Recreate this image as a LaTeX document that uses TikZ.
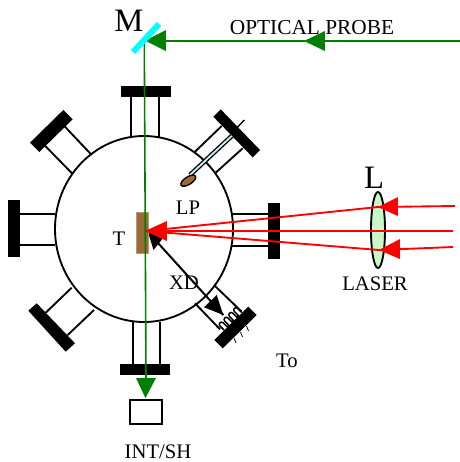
\documentclass[tikz,border=0pt]{standalone}
\usepackage{fontspec}
\setmainfont{Liberation Serif}
\definecolor{gline}{HTML}{008000}
\definecolor{brownT}{HTML}{9C6A36}
\definecolor{lensg}{HTML}{C8F7C8}
\definecolor{probec}{HTML}{C8F0F0}
\definecolor{mirrorc}{RGB}{0,255,255}
\definecolor{redc}{RGB}{255,0,0}
\newcommand{\coilhump}{-- ++(-4,-4) .. controls +(-2.2,-2.2) and +(-2.2,-2.2) .. ++(3.2,-3.2) -- ++(4,4) -- ++(1.6,-1.6)}
\tikzset{
  wall/.style={black,line width=1.4pt},
  bar/.style={fill=black,draw=none},
  gbeam/.style={gline,line width=1.5pt},
  rbeam/.style={redc,line width=1.4pt},
  lbl/.style={font=\fontsize{15.5}{17}\selectfont,inner sep=0pt,anchor=center},
  biglbl/.style={font=\fontsize{24.5}{27}\selectfont,inner sep=0pt,anchor=center},
}
\begin{document}
\begin{tikzpicture}[x=0.75pt,y=-0.75pt]
\useasboundingbox (0,0) rectangle (460,462);
% chamber
\draw[wall] (144,229) ellipse [x radius=89,y radius=93];
% ports
\path[bar] (121.5,86) rectangle (171,97);
\draw[wall] (131,97)--(131,138) (159,97)--(159,138);
\path[bar] (120,364) rectangle (170,375);
\draw[wall] (133,322)--(133,364) (160,322)--(160,364);
\path[bar] (8,200) rectangle (20,257);
\draw[wall] (20,214)--(55,214) (20,245)--(55,245);
\path[bar] (268,203) rectangle (280,259);
\draw[wall] (232,214)--(268,214) (232,246)--(268,246);
\path[bar] (63.3,110)--(72.7,119.3)--(39.3,152)--(30,142.7)--cycle;
\draw[wall] (64.3,126)--(91.7,155) (44.3,145)--(72.7,174);
\path[bar] (28.3,310.7)--(36.7,303.3)--(75,343.3)--(65.7,351.7)--cycle;
\draw[wall] (45.7,312.7)--(71.7,287.7) (67.7,335)--(94,310);
\path[bar] (220.7,109.3)--(260,150)--(252.7,157.3)--(213.3,116.7)--cycle;
\draw[wall] (221.7,126)--(195,151.7) (242.7,148.3)--(215,173.3);
% langmuir probe
\draw[black,line width=1pt] (244.3,120)--(231,134);
\draw[black,line width=3.4pt] (231.7,136)--(190,175);
\draw[probec,line width=1.4pt] (231.7,136)--(190,175);
\draw[black,fill=brownT,line width=1pt,rotate around={32:(188.3,180.7)}] (188.3,180.7) ellipse [x radius=8.5,y radius=3.8];
% detector
\path[bar] (248.3,306.7)--(256.7,315)--(222.7,348.3)--(214.3,340)--cycle;
\draw[wall] (195,303.3)--(220,329.3) (214,285)--(241.7,311.7);
\draw[black,line width=1.1pt] (224,330) \coilhump \coilhump \coilhump -- ++(-4,-4) .. controls +(-2.2,-2.2) and +(-2.2,-2.2) .. ++(3.2,-3.2) -- ++(4,4);
\draw[black,line width=0.6pt] (234,338)--(236,343) (240.5,332)--(242.5,337) (246.5,326)--(248.5,331);
\draw[black,line width=1.5pt] (158,243)--(223.3,315);
\path[fill=black] (223.3,315)--(216.7,295)--(204,307.3)--cycle;
\path[fill=black] (148,232)--(163.5,237.5)--(153.5,250)--cycle;
% target and green beam
\path[fill=brownT,draw=brownT!70!white,line width=0.6pt] (136,212.7) rectangle (148,253);
\draw[gline,line width=1.2pt] (144.3,43)--(146,380);
\draw[gbeam] (460,41)--(150,41);
\path[fill=gline] (145,40.5)--(166,30)--(166,51)--cycle;
\path[fill=gline] (304,41)--(325,31)--(325,51)--cycle;
\path[fill=gline] (145.5,398)--(136,378)--(156,378)--cycle;
\draw[mirrorc,line width=4.4pt] (159,24)--(133,52);
% output box
\draw[black,line width=1.1pt] (130,400) rectangle (162,424);
% lens
\draw[black,fill=lensg,line width=1.4pt] (378,230) ellipse [x radius=7,y radius=38];
% red beams
\draw[rbeam] (146,231)--(378,207)--(455,206);
\draw[rbeam] (146,231)--(453,231);
\draw[rbeam] (146,231)--(379,250)--(453,247);
\path[fill=redc] (145,231)--(167,221)--(167,241)--cycle;
\path[fill=redc] (378,207)--(398,197)--(398,216)--cycle;
\path[fill=redc] (379,250)--(400,239)--(400,259)--cycle;
% labels
\node[biglbl] (m) at (129,21) {M};
\node[biglbl] (l) at (374,178) {L};
\node[lbl] (t) at (119,239) {T};
\node[lbl] (lp) at (188,208) {LP};
\node[lbl] (xd) at (184,283) {XD};
\node[lbl] (to) at (287,361) {To};
\node[lbl] (laser) at (375,284) {LASER};
\node[lbl] (int) at (158,452) {INT/SH};
\node[lbl,font=\fontsize{16}{18}\selectfont] (op) at (312,28) {OPTICAL PROBE};
\end{tikzpicture}
\end{document}
